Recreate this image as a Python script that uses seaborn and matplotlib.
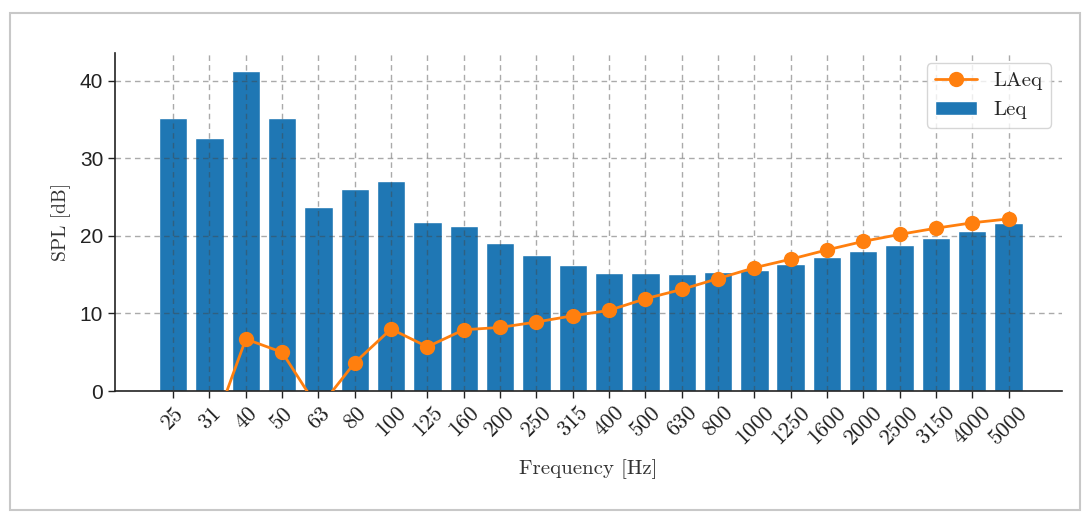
import numpy as np
import pandas as pd
import matplotlib
matplotlib.use("Agg")
import matplotlib.pyplot as plt
import seaborn as sns
from matplotlib.patches import Rectangle

# ---- data ----
freq_labels = ["25", "31", "40", "50", "63", "80", "100", "125", "160", "200", "250",
               "315", "400", "500", "630", "800", "1000", "1250", "1600", "2000",
               "2500", "3150", "4000", "5000"]
leq = [35.2, 32.6, 41.3, 35.2, 23.7, 26.1, 27.1, 21.8, 21.3, 19.1, 17.5,
       16.3, 15.2, 15.2, 15.1, 15.4, 15.6, 16.4, 17.3, 18.1, 18.8, 19.8, 20.7, 21.7]
laeq = [-12.0, -6.2, 6.7, 5.0, -2.3, 3.65, 8.0, 5.7, 7.9, 8.2, 8.9,
        9.7, 10.4, 11.9, 13.1, 14.5, 15.9, 17.0, 18.2, 19.3, 20.2, 21.0, 21.7, 22.2]

df = pd.DataFrame({"freq": freq_labels, "Leq": leq, "LAeq": laeq})

sns.set_style("white")
serif = ["cmr10", "DejaVu Serif"]

fig = plt.figure(figsize=(10.9, 5.17), dpi=100)
ax = fig.add_axes([0.1055, 0.2437, 0.974 - 0.1055, 0.8975 - 0.2437])

# screenshot frame
fig.patches.append(Rectangle((10 / 1090, 7 / 517), 1070 / 1090, 497 / 517,
                             transform=fig.transFigure, fill=False,
                             edgecolor="#c8c8c8", linewidth=1.5))

sns.barplot(data=df, x="freq", y="Leq", color="#1f77b4", saturation=1,
            width=0.78, label="Leq", ax=ax, zorder=2)
sns.pointplot(data=df, x="freq", y="LAeq", color="#ff7f0e", label="LAeq",
              markersize=9.5, linewidth=2.0, errorbar=None, ax=ax, zorder=3)

ax.set_xlim(-1.6, 24.46)
ax.set_ylim(0, 43.6)
ax.set_yticks([0, 10, 20, 30, 40])

ax.grid(True, linestyle=(0, (4, 3)), color="#444444", alpha=0.45, linewidth=1.0)
ax.set_axisbelow(False)

sns.despine(ax=ax)
for s in ["left", "bottom"]:
    ax.spines[s].set_color("#222222")
    ax.spines[s].set_linewidth(1.2)

ax.tick_params(axis="both", direction="out", length=5, width=1.0, color="#222222",
               left=True, bottom=True)
ax.set_xticks(range(len(freq_labels)))
ax.set_xticklabels(freq_labels, rotation=45, fontfamily=serif, fontsize=16,
                   color="#222222")
for t in ax.get_yticklabels():
    t.set_fontfamily(["Liberation Sans", "DejaVu Sans"])
    t.set_fontsize(15)
    t.set_color("#222222")

ax.set_xlabel("Frequency [Hz]", fontfamily=serif, fontsize=15, color="#333333",
              labelpad=8)
ax.set_ylabel("SPL [dB]", fontfamily=serif, fontsize=14, color="#333333",
              labelpad=6)

handles, labels = ax.get_legend_handles_labels()
order = [labels.index("LAeq"), labels.index("Leq")]
ax.legend([handles[i] for i in order], [labels[i] for i in order],
          loc="upper right", bbox_to_anchor=(1.0, 1.0),
          prop={"family": serif, "size": 15}, frameon=True, framealpha=0.8,
          edgecolor="#cccccc", fancybox=True, borderpad=0.4)

fig.savefig("out.png", dpi=100, facecolor="white")
